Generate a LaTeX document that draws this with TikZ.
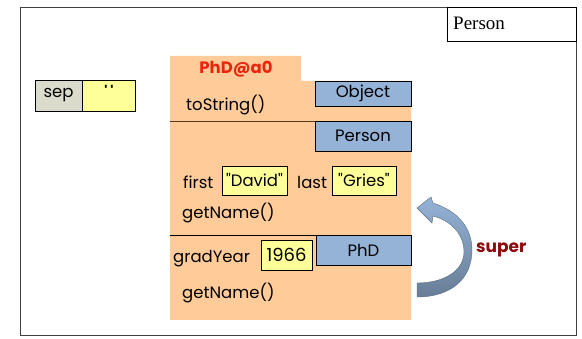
\documentclass[tikz,border=0pt]{standalone}
\usepackage{fontspec}
\setmainfont{Poppins}
\newfontfamily\serifname{Liberation Serif}
\usepackage{tikz}
\usetikzlibrary{positioning, calc, shapes.misc}
\usepackage{xcolor}
\definecolor{peach}{HTML}{FFCC99}
\definecolor{classblue}{HTML}{95B3D7}
\definecolor{valyellow}{HTML}{FFFF99}
\definecolor{namegray}{HTML}{DADBCB}
\definecolor{objred}{HTML}{E8260F}
\definecolor{superred}{HTML}{8E0A0A}

\begin{document}
\begin{tikzpicture}[x=1pt, y=-1pt,
    every node/.style={font=\fontsize{16.5}{18}\selectfont, inner sep=0pt},
    classbox/.style={draw, fill=classblue, line width=0.8pt, minimum width=96, minimum height=26},
    valbox/.style={draw, fill=valyellow, line width=0.8pt, minimum height=29},
    member/.style={anchor=base west}]
\useasboundingbox (0,0) rectangle (582,339);

% Frame
\draw[line width=0.9pt, black!75] (20,7) rectangle (576,335);
\node[draw, line width=0.8pt, minimum width=129, minimum height=34] (scope) at (511.5,24) {};
\node[anchor=west, font=\serifname\fontsize{19}{21}\selectfont] (scopename) at (453,23) {Person};

% Variable sep
\node[draw, fill=namegray, line width=0.8pt, minimum width=47, minimum height=31] (sepname) at (58.5,95.5) {sep};
\node[draw, fill=valyellow, line width=0.8pt, minimum width=53, minimum height=31, anchor=west] (sepval) at (sepname.east) {};
\node[font=\bfseries\fontsize{14}{16}\selectfont] (sepquote) at (109,91) {\textquotesingle\hspace{3pt}\textquotesingle};

% Object folder
\fill[peach] (170,56) -- (301,56) -- (301,81) -- (411,81) -- (411,320) -- (170,320) -- cycle;
\node[font=\bfseries\fontsize{16.5}{18}\selectfont, text=objred] (objname) at (236,69) {PhD@a0};

% Partition Object
\node[classbox, minimum height=25] (objectcls) at (363,93.5) {Object};
\node[member] (tostr) at (186,111) {toString()};

% Partition Person
\draw[line width=0.8pt, black!55!brown] (170,121) -- (315,121);
\node[classbox, minimum height=30] (personcls) at (363,136) {Person};
\node[member] (firstlbl) at (183,189) {first};
\node[valbox, minimum width=65] (firstval) at (254.5,180.5) {\textquotedbl David\textquotedbl};
\node[member] (lastlbl) at (297,189) {last};
\node[valbox, minimum width=64] (lastval) at (364,180.5) {\textquotedbl Gries\textquotedbl};
\node[member] (getname) at (182,219) {getName()};

% Partition PhD
\draw[line width=0.8pt] (170,235) -- (316,235);
\node[classbox, minimum width=95, minimum height=30] (phdcls) at (363.5,250) {PhD};
\node[member] (gradlbl) at (173,263) {gradYear};
\node[valbox, minimum width=51, minimum height=30, font=\fontsize{18}{20}\selectfont] (gradval) at (286.5,255) {1966};
\node[member] (getnametwo) at (182,299) {getName()};

% super arrow
\shade[top color=classblue, bottom color=classblue!70!black, draw=classblue!60!black, line width=0.4pt]
  (417,297) .. controls (452,297) and (472,278) .. (472,250)
  .. controls (472,228) and (458,211) .. (433,203) -- (431,197) -- (417,208)
  -- (432,223) -- (433,216) .. controls (452,221) and (464,235) .. (464,252)
  .. controls (464,270) and (445,283) .. (417,283) -- cycle;
\node[member, font=\bfseries\fontsize{17}{19}\selectfont, text=superred] (superlbl) at (476,253) {super};
\end{tikzpicture}
\end{document}
